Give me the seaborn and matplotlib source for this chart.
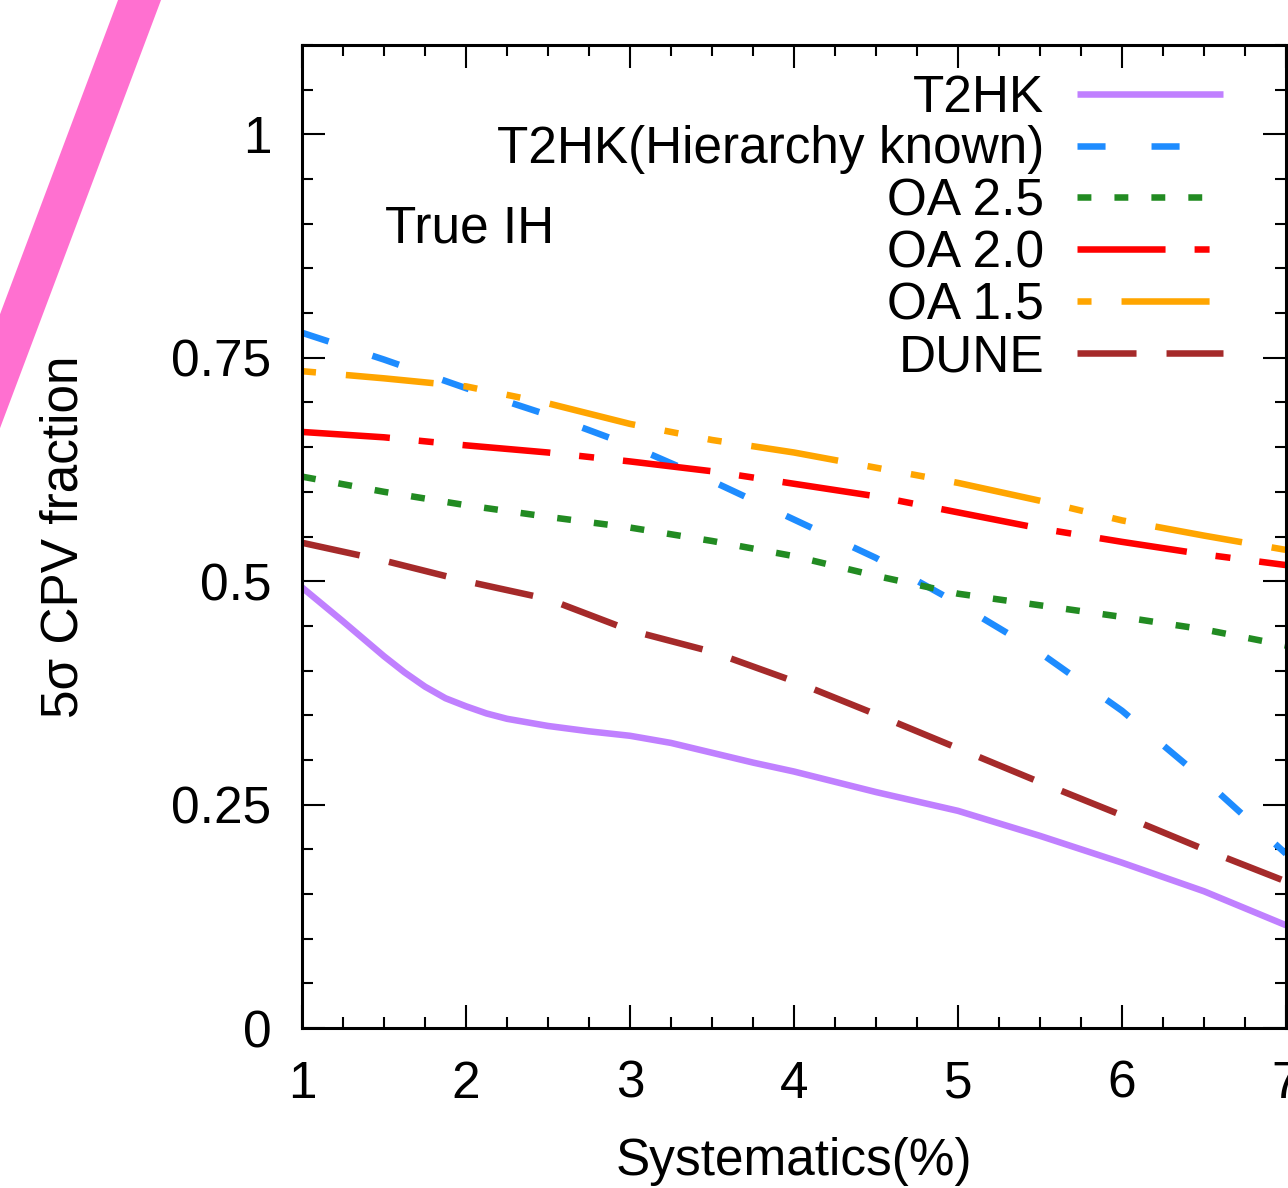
import numpy as np
import pandas as pd
import matplotlib
matplotlib.use("Agg")
import matplotlib.pyplot as plt
from matplotlib.patches import Polygon
from matplotlib.ticker import MultipleLocator
import seaborn as sns

# ---------------- data ----------------
systematics = [1.0, 1.5, 2.0, 2.5, 3.0, 3.5, 4.0, 4.5, 5.0, 5.5, 6.0, 6.5, 7.0]

t2hk_x = [1.0, 1.25, 1.5, 1.625, 1.75, 1.875, 2.0, 2.125, 2.25, 2.5, 2.75, 3.0,
          3.25, 3.5, 3.75, 4.0, 4.5, 5.0, 5.5, 6.0, 6.5, 7.0]
t2hk = [0.493, 0.455, 0.416, 0.398, 0.382, 0.369, 0.360, 0.352, 0.346, 0.338,
        0.332, 0.327, 0.319, 0.308, 0.297, 0.287, 0.264, 0.243, 0.215, 0.185,
        0.153, 0.115]
t2hk_hier = [0.778, 0.748, 0.716, 0.686, 0.652, 0.612, 0.569, 0.526, 0.475,
             0.420, 0.355, 0.278, 0.195]
oa25 = [0.617, 0.600, 0.585, 0.572, 0.560, 0.545, 0.528, 0.506, 0.486, 0.473,
        0.460, 0.446, 0.428]
oa20 = [0.667, 0.661, 0.652, 0.644, 0.634, 0.623, 0.609, 0.595, 0.577, 0.559,
        0.544, 0.530, 0.518]
oa15 = [0.735, 0.727, 0.718, 0.699, 0.676, 0.658, 0.644, 0.627, 0.610, 0.590,
        0.568, 0.551, 0.535]
dune = [0.543, 0.523, 0.500, 0.480, 0.445, 0.421, 0.388, 0.351, 0.313, 0.275,
        0.238, 0.200, 0.164]

series_names = ["T2HK", "T2HK(Hierarchy known)", "OA 2.5", "OA 2.0", "OA 1.5", "DUNE"]
x_ticks = [1, 2, 3, 4, 5, 6, 7]
x_tick_labels = ["1", "2", "3", "4", "5", "6", "7"]
y_ticks = [0, 0.25, 0.5, 0.75, 1.0]
y_tick_labels = ["0", "0.25", "0.5", "0.75", "1"]

# ---------------- style ----------------
colors = ["#C080FF", "#1E8CFF", "#228B22", "#FF0000", "#FFA500", "#A52A2A"]
dash_patterns = [
    None,
    (20.2, 33.1),
    (10.0, 16.6),
    (63.4, 20.9, 10.8, 20.9),
    (10.1, 21.6, 63.4, 21.6, 10.1, 21.6),
    (42.5, 21.6),
]

sns.set_theme(style="white")
plt.rcParams['font.family'] = ['Liberation Sans', 'DejaVu Sans']
plt.rcParams['lines.scale_dashes'] = False
plt.rcParams['text.color'] = 'black'
plt.rcParams['axes.labelcolor'] = 'black'

FS = 37

W, H = 1288, 1188
fig = plt.figure(figsize=(W / 100, H / 100), dpi=100)
fig.patch.set_facecolor('white')
ax = fig.add_axes([302 / W, 160 / H, 984 / W, 983 / H])

# decorative pink stroke at the upper left (edge of a neighbouring panel)
band_px = [(121.8, -10), (164.8, -10), (-8.2, 450), (-51.0, 450)]
fig.add_artist(Polygon([(px / W, 1 - py / H) for px, py in band_px], closed=True,
                       transform=fig.transFigure, facecolor="#FF70D0",
                       edgecolor='none'))

all_x = [t2hk_x, systematics, systematics, systematics, systematics, systematics]
all_y = [t2hk, t2hk_hier, oa25, oa20, oa15, dune]

for name, xs, ys, c, d in zip(series_names, all_x, all_y, colors, dash_patterns):
    sns.lineplot(x=xs, y=ys, ax=ax, color=c, linewidth=4.7, label=name,
                 errorbar=None, legend=False)
    line = ax.lines[-1]
    line.set_solid_capstyle('butt')
    line.set_dash_capstyle('butt')
    line.set_solid_joinstyle('round')
    if d is not None:
        line.set_dashes(d)

ax.set_xlim(1, 7)
ax.set_ylim(0, 1.1)
ax.set_xticks(x_ticks, x_tick_labels)
ax.set_yticks(y_ticks, y_tick_labels)
ax.xaxis.set_minor_locator(MultipleLocator(0.25))
ax.yaxis.set_minor_locator(MultipleLocator(0.05))

ax.tick_params(which='both', direction='in', top=True, right=True,
               bottom=True, left=True, colors='black', width=1.5,
               labelsize=FS)
ax.tick_params(which='major', length=16.5)
ax.tick_params(which='minor', length=8)
ax.tick_params(axis='x', which='major', pad=23)
ax.tick_params(axis='y', which='major', pad=22)

for s in ax.spines.values():
    s.set_color('black')
    s.set_linewidth(2.2)

ax.set_xlabel("Systematics(%)", fontsize=FS)
ax.set_ylabel("5σ CPV fraction", fontsize=FS)
ax.xaxis.set_label_coords(0.5, -0.111)
ax.yaxis.set_label_coords(-0.217, 0.5)

ax.text(0.0843, 0.7986, "True IH", transform=ax.transAxes, fontsize=FS,
        ha='left', va='baseline')

handles, labels = ax.get_legend_handles_labels()
ax.legend(handles, labels, loc='upper right', bbox_to_anchor=(0.936, 0.971),
          bbox_transform=ax.transAxes, frameon=False, markerfirst=False,
          handlelength=2.84, handletextpad=0.64, labelspacing=0.058,
          borderpad=0, borderaxespad=0, fontsize=FS)

fig.savefig("out.png", dpi=100, facecolor='white')
